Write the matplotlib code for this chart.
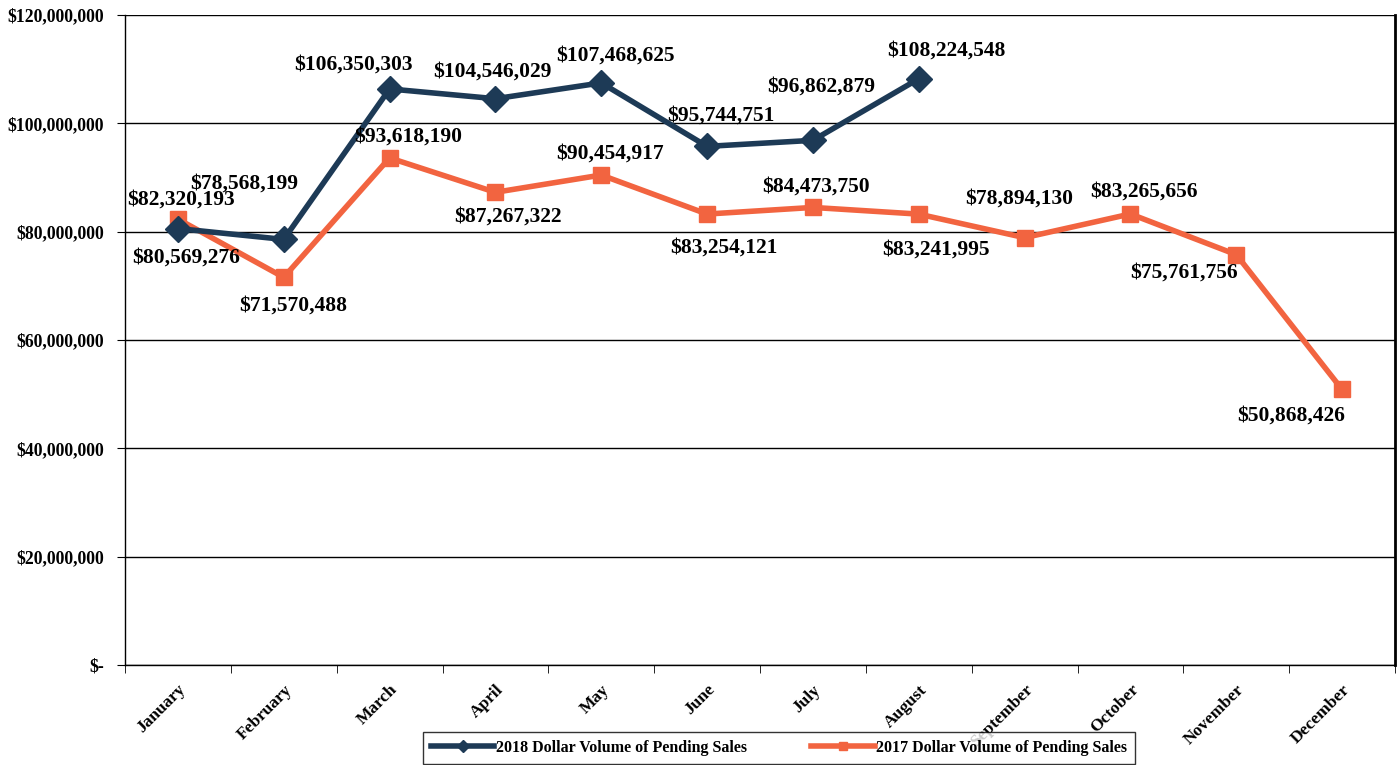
import matplotlib
matplotlib.use("Agg")
from matplotlib import pyplot as plt
from matplotlib.ticker import FuncFormatter, FixedLocator
import numpy as np

months = ["January", "February", "March", "April", "May", "June", "July",
          "August", "September", "October", "November", "December"]
sales_2018 = [80569276, 78568199, 106350303, 104546029, 107468625, 95744751,
              96862879, 108224548]
sales_2017 = [82320193, 71570488, 93618190, 87267322, 90454917, 83254121,
              84473750, 83241995, 78894130, 83265656, 75761756, 50868426]

# label offsets in pixels (dx, dy)
off_2018 = [(8, -29), (-40, 56), (-36, 24), (-3, 27), (14, 27), (14, 31), (8, 54), (28, 28)]
off_2017 = [(3, 20), (9, -28), (19, 21), (13, -24), (9, 21), (17, -34), (3, 21),
            (17, -35), (-5, 39), (14, 22), (-52, -18), (-51, -26)]

c2018 = "#1d3a56"
c2017 = "#f26440"

plt.rcParams['font.family'] = ['Liberation Serif', 'DejaVu Serif']
plt.rcParams['font.weight'] = 'bold'

fig = plt.figure(figsize=(13.99, 7.65), dpi=100)
ax = fig.add_axes([125 / 1399, 1 - 665 / 765, (1395 - 125) / 1399, (665 - 15) / 765])

x18 = np.arange(len(sales_2018))
x17 = np.arange(len(sales_2017))
ax.plot(x18, sales_2018, color=c2018, lw=4, marker="D", ms=13, mec=c2018,
        label="2018 Dollar Volume of Pending Sales", zorder=4)
ax.plot(x17, sales_2017, color=c2017, lw=4, marker="s", ms=12, mec=c2017,
        label="2017 Dollar Volume of Pending Sales", zorder=3)

def money(v):
    return "${:,.0f}".format(v)

for i, v in enumerate(sales_2018):
    dx, dy = off_2018[i]
    ax.annotate(money(v), (x18[i], v), xytext=(dx, dy), textcoords="offset pixels",
                ha="center", va="center", fontsize=15.5, fontweight="bold", zorder=6)
for i, v in enumerate(sales_2017):
    dx, dy = off_2017[i]
    ax.annotate(money(v), (x17[i], v), xytext=(dx, dy), textcoords="offset pixels",
                ha="center", va="center", fontsize=15.5, fontweight="bold", zorder=6)

ax.set_ylim(0, 120000000)
ax.set_xlim(-0.5, 11.5)
ax.set_yticks(np.arange(0, 120000001, 20000000))
ax.yaxis.set_major_formatter(FuncFormatter(lambda v, p: "$-" if v == 0 else money(v)))
ax.grid(axis="y", color="black", lw=1)
ax.set_axisbelow(True)

ax.set_xticks(x17)
ax.set_xticklabels(months, rotation=45, ha="right", rotation_mode="anchor")
ax.xaxis.set_minor_locator(FixedLocator(np.arange(-0.5, 12, 1)))
ax.tick_params(axis="x", which="major", length=0, pad=12, labelsize=12.5)
ax.tick_params(axis="x", which="minor", length=6, direction="out")
ax.tick_params(axis="y", length=6, labelsize=12.7, pad=9)

ax.spines["top"].set_visible(False)
ax.spines["right"].set_linewidth(2)
ax.spines["left"].set_linewidth(1)
ax.spines["bottom"].set_linewidth(1)

leg = fig.legend(loc="center", bbox_to_anchor=(779 / 1399, 1 - 748 / 765), ncol=2,
                 fontsize=11.5, frameon=True, fancybox=False, edgecolor="black",
                 markerscale=0.45, handlelength=4, columnspacing=4,
                 borderpad=0.5, handletextpad=0.1, borderaxespad=0)
leg.get_frame().set_linewidth(1)

fig.savefig("out.png", dpi=100)
